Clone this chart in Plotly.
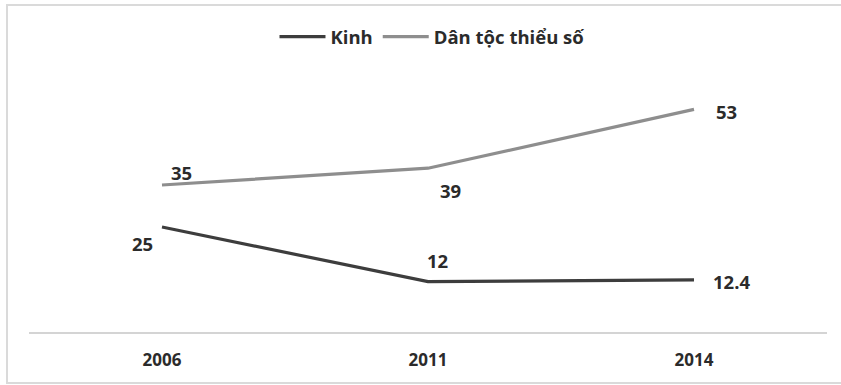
import plotly.graph_objects as go

# Data
years = ["2006", "2011", "2014"]
kinh = [25, 12, 12.4]
dttso = [35, 39, 53]
kinh_labels = ["25", "12", "12.4"]
dttso_labels = ["35", "39", "53"]

# Label offsets (pixels) around each point
kinh_shift = [(-20, -16), (9, 21), (37, -2)]
dttso_shift = [(19, 13), (22, -22), (32, -2)]

FONT = "Open Sans"
TXT = "#2b2b2b"

fig = go.Figure()
fig.add_trace(go.Scatter(x=years, y=kinh, mode="lines", name="Kinh",
                         line=dict(color="#3d3d3d", width=3.2)))
fig.add_trace(go.Scatter(x=years, y=dttso, mode="lines", name="Dân tộc thiểu số",
                         line=dict(color="#8e8e8e", width=3.2)))

annotations = []
for vals, labs, shifts in [(kinh, kinh_labels, kinh_shift),
                           (dttso, dttso_labels, dttso_shift)]:
    for i, (y, t, (dx, dy)) in enumerate(zip(vals, labs, shifts)):
        # category index keeps numeric-looking year labels from being read as numbers
        annotations.append(dict(x=i, y=y, xref="x", yref="y", text=t, showarrow=False,
                                xshift=dx, yshift=dy,
                                font=dict(family=FONT, size=18.5, color=TXT, weight=700)))

fig.update_layout(
    width=841, height=385,
    margin=dict(l=29, r=14, t=80, b=53),
    paper_bgcolor="white", plot_bgcolor="white",
    font=dict(family=FONT, size=17, color=TXT, weight=700),
    legend=dict(orientation="h", x=0.505, xanchor="center", y=1.17, yanchor="middle",
                font=dict(family=FONT, size=18.5, color=TXT, weight=700),
                itemwidth=46, bgcolor="rgba(0,0,0,0)"),
    xaxis=dict(type="category", range=[-0.5, 2.5], showgrid=False, zeroline=False,
               showline=True, linecolor="#d4d4d4", linewidth=2, ticks="",
               ticklabelstandoff=12,
               tickfont=dict(family=FONT, size=17, color=TXT, weight=700)),
    yaxis=dict(range=[0, 60], visible=False, showgrid=False, zeroline=False),
    annotations=annotations,
    shapes=[dict(type="rect", xref="paper", yref="paper",
                 x0=(7 - 29) / 798, x1=(870 - 29) / 798,
                 y0=(332 - 383) / 252, y1=(332 - 5) / 252,
                 line=dict(color="#dadada", width=2), layer="below")],
)

fig.write_html("out.html")
